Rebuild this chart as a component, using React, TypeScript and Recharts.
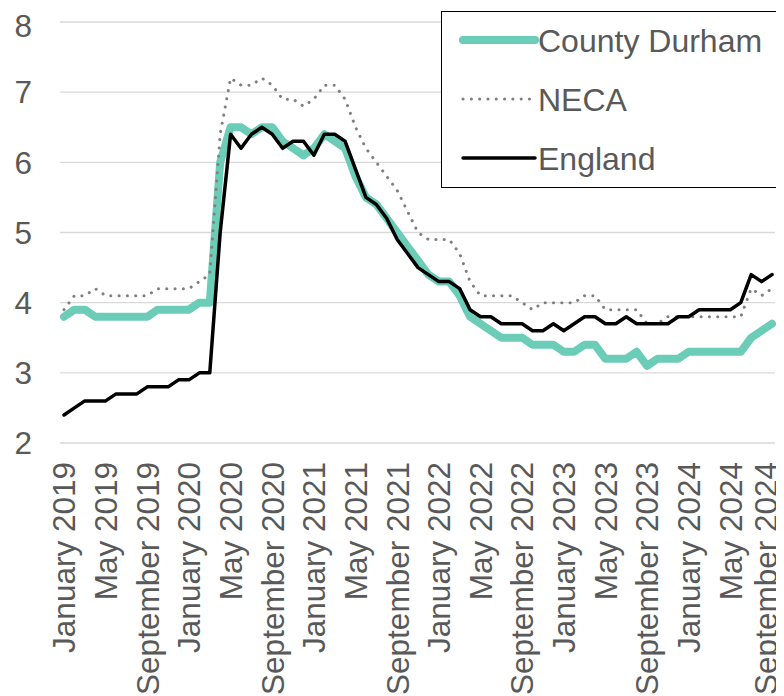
import { LineChart, Line, XAxis, YAxis, CartesianGrid } from "recharts";

const MONTH_NAMES = [
  "January", "February", "March", "April", "May", "June",
  "July", "August", "September", "October", "November", "December",
];
const FIRST_YEAR = 2019;
const MONTH_COUNT = 69; // January 2019 .. September 2024

const months: string[] = [];
for (let i = 0; i < MONTH_COUNT; i++) {
  months.push(`${MONTH_NAMES[i % 12]} ${FIRST_YEAR + Math.floor(i / 12)}`);
}

const countyDurham = [
  3.8, 3.9, 3.9, 3.8, 3.8, 3.8, 3.8, 3.8, 3.8, 3.9,
  3.9, 3.9, 3.9, 4.0, 4.0, 6.0, 6.5, 6.5, 6.4, 6.5,
  6.5, 6.3, 6.2, 6.1, 6.2, 6.4, 6.3, 6.2, 5.8, 5.5,
  5.4, 5.2, 5.0, 4.8, 4.6, 4.4, 4.3, 4.3, 4.1, 3.8,
  3.7, 3.6, 3.5, 3.5, 3.5, 3.4, 3.4, 3.4, 3.3, 3.3,
  3.4, 3.4, 3.2, 3.2, 3.2, 3.3, 3.1, 3.2, 3.2, 3.2,
  3.3, 3.3, 3.3, 3.3, 3.3, 3.3, 3.5, 3.6, 3.7,
];

const neca = [
  3.9, 4.1, 4.1, 4.2, 4.1, 4.1, 4.1, 4.1, 4.1, 4.2,
  4.2, 4.2, 4.2, 4.3, 4.4, 6.4, 7.2, 7.1, 7.1, 7.2,
  7.1, 6.9, 6.9, 6.8, 6.9, 7.1, 7.1, 6.9, 6.5, 6.2,
  6.0, 5.8, 5.6, 5.3, 5.0, 4.9, 4.9, 4.9, 4.7, 4.3,
  4.1, 4.1, 4.1, 4.1, 4.0, 3.9, 4.0, 4.0, 4.0, 4.0,
  4.1, 4.1, 3.9, 3.9, 3.9, 3.9, 3.7, 3.7, 3.8, 3.8,
  3.8, 3.8, 3.8, 3.8, 3.8, 3.8, 4.2, 4.1, 4.2,
];

const england = [
  2.4, 2.5, 2.6, 2.6, 2.6, 2.7, 2.7, 2.7, 2.8, 2.8,
  2.8, 2.9, 2.9, 3.0, 3.0, 5.0, 6.4, 6.2, 6.4, 6.5,
  6.4, 6.2, 6.3, 6.3, 6.1, 6.4, 6.4, 6.3, 5.9, 5.5,
  5.4, 5.2, 4.9, 4.7, 4.5, 4.4, 4.3, 4.3, 4.2, 3.9,
  3.8, 3.8, 3.7, 3.7, 3.7, 3.6, 3.6, 3.7, 3.6, 3.7,
  3.8, 3.8, 3.7, 3.7, 3.8, 3.7, 3.7, 3.7, 3.7, 3.8,
  3.8, 3.9, 3.9, 3.9, 3.9, 4.0, 4.4, 4.3, 4.4,
];

const yTicks = [2, 3, 4, 5, 6, 7, 8];

const data = months.map((month, i) => ({
  month,
  countyDurham: countyDurham[i],
  neca: neca[i],
  england: england[i],
}));

const FONT = "'Liberation Sans', Arial, sans-serif";
const TEXT = "#595959";

const series = [
  { key: "countyDurham", name: "County Durham", color: "#6BCDB8", width: 8, dash: undefined as string | undefined },
  { key: "neca", name: "NECA", color: "#7F7F7F", width: 3, dash: "0.1 8.2" },
  { key: "england", name: "England", color: "#000000", width: 3.5, dash: undefined as string | undefined },
];

function MonthTick(props: any) {
  const { x, y, payload, index } = props;
  // pull the last label in a little so its descenders stay on the page
  const tx = index === undefined || payload.value !== months[months.length - 1] ? x : x - 6;
  return (
    <text
      x={tx}
      y={y}
      transform={`rotate(-90 ${tx} ${y})`}
      textAnchor="end"
      dy="0.36em"
      fontSize={31.5}
      fill={TEXT}
      fontFamily={FONT}
    >
      {payload.value}
    </text>
  );
}

function LegendBox() {
  const rows = [28, 87, 146];
  return (
    <div
      style={{
        position: "absolute",
        left: 433,
        top: 3,
        width: 339,
        height: 177,
        boxSizing: "border-box",
        border: "1.3px solid #000",
        background: "#fff",
      }}
    >
      <svg width={337} height={175} style={{ display: "block", overflow: "visible" }}>
        {series.map((s, i) => (
          <g key={s.key}>
            <line
              x1={21}
              x2={93}
              y1={rows[i]}
              y2={rows[i]}
              stroke={s.color}
              strokeWidth={s.width}
              strokeDasharray={s.dash}
              strokeLinecap="round"
            />
            <text x={96} y={rows[i] + 12} fontSize={32} fill={TEXT} fontFamily={FONT}>
              {s.name}
            </text>
          </g>
        ))}
      </svg>
    </div>
  );
}

export default function App() {
  return (
    <div style={{ position: "relative", width: 776, height: 688, fontFamily: FONT }}>
      <LineChart
        width={776}
        height={688}
        data={data}
        margin={{ top: 14, right: 9, left: 0, bottom: 0 }}
      >
        <CartesianGrid vertical={false} stroke="#D9D9D9" strokeWidth={1.3} />
        <XAxis
          dataKey="month"
          interval={3}
          height={253}
          axisLine={false}
          tickLine={false}
          tickSize={0}
          tickMargin={19}
          padding={{ left: 4, right: 3 }}
          tick={<MonthTick />}
        />
        <YAxis
          domain={[2, 8]}
          ticks={yTicks}
          width={52}
          axisLine={false}
          tickLine={false}
          tickSize={0}
          tickMargin={28}
          tick={{ fontSize: 31.5, fill: TEXT, fontFamily: FONT }}
        />
        {series.map((s) => (
          <Line
            key={s.key}
            type="linear"
            dataKey={s.key}
            name={s.name}
            stroke={s.color}
            strokeWidth={s.width}
            strokeDasharray={s.dash}
            strokeLinecap="round"
            strokeLinejoin="round"
            dot={false}
            activeDot={false}
            isAnimationActive={false}
          />
        ))}
      </LineChart>
      <LegendBox />
    </div>
  );
}
